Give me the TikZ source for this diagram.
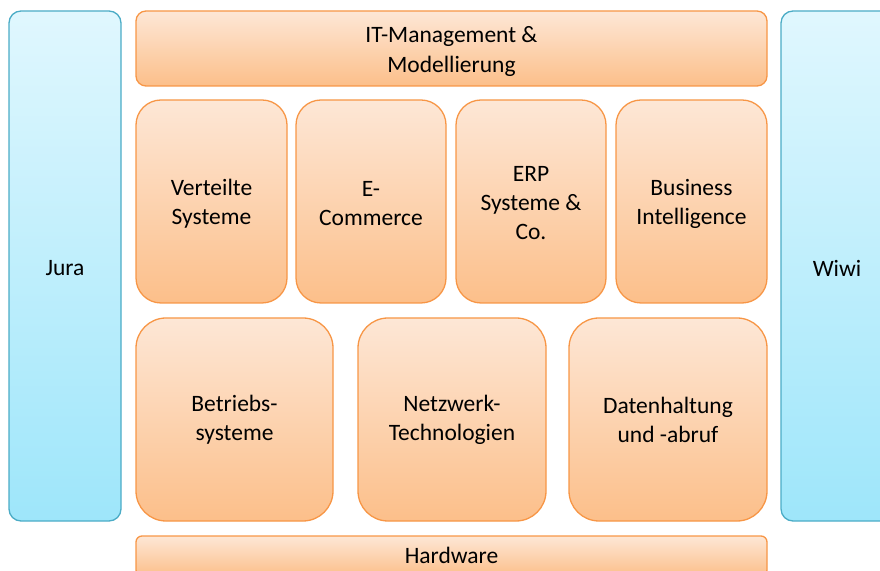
\documentclass[tikz,border=0pt]{standalone}
\usepackage{fontspec}
\setmainfont{Carlito}
\definecolor{oTop}{HTML}{FDE7D6}
\definecolor{oBot}{HTML}{FCBF8A}
\definecolor{oLine}{HTML}{F79646}
\definecolor{bTop}{HTML}{E0F7FE}
\definecolor{bBot}{HTML}{9EE6FA}
\definecolor{bLine}{HTML}{4BACC6}
\begin{document}
\begin{tikzpicture}[x=1pt,y=1pt,
  every node/.style={inner sep=0pt},
  txt/.style={font=\fontsize{23.5}{29}\selectfont, align=center, text=black},
  obox/.style={draw=oLine, line width=1.3pt, top color=oTop, bottom color=oBot, rectangle},
  bbox/.style={draw=bLine, line width=1.3pt, top color=bTop, bottom color=bBot, rectangle}]
\useasboundingbox (0,0) rectangle (880,570);
\clip (0,0) rectangle (880,570);
\node[bbox, rounded corners=12pt, minimum width=112pt, minimum height=510pt] (jura) at (65,304) {};
\node[bbox, rounded corners=12pt, minimum width=112pt, minimum height=510pt] (wiwi) at (837,304) {};
\node[obox, rounded corners=10pt, minimum width=631pt, minimum height=75pt] (itm) at (451.5,521.5) {};
\node[obox, rounded corners=25pt, minimum width=151pt, minimum height=203pt] (vs) at (211.5,368.5) {};
\node[obox, rounded corners=25pt, minimum width=150pt, minimum height=203pt] (ec) at (371,368.5) {};
\node[obox, rounded corners=25pt, minimum width=150pt, minimum height=203pt] (erp) at (531,368.5) {};
\node[obox, rounded corners=25pt, minimum width=151pt, minimum height=203pt] (bi) at (691.5,368.5) {};
\node[obox, rounded corners=30pt, minimum width=197pt, minimum height=203pt] (bs) at (234.5,150.5) {};
\node[obox, rounded corners=30pt, minimum width=188pt, minimum height=203pt] (nt) at (452,150.5) {};
\node[obox, rounded corners=30pt, minimum width=198pt, minimum height=203pt] (dh) at (668,150.5) {};
\node[obox, rounded corners=6pt, minimum width=631pt, minimum height=40pt] (hw) at (451.5,14) {};
\node[txt] (tjura) at ([yshift=-2pt]jura.center) {Jura};
\node[txt] (twiwi) at ([yshift=-2pt]wiwi.center) {Wiwi};
\node[txt, font=\fontsize{23.5}{30}\selectfont] (titm) at ([yshift=-2.5pt]itm.center) {IT-Management \&\\Modellierung};
\node[txt] (tvs) at ([yshift=-2pt]vs.center) {Verteilte\\Systeme};
\node[txt] (tec) at ([yshift=-2pt]ec.center) {E-\\Commerce};
\node[txt] (terp) at ([yshift=-2pt]erp.center) {ERP\\Systeme \&\\Co.};
\node[txt] (tbi) at ([yshift=-2pt]bi.center) {Business\\Intelligence};
\node[txt] (tbs) at ([yshift=-0.5pt]bs.center) {Betriebs-\\systeme};
\node[txt] (tnt) at ([yshift=-0.5pt]nt.center) {Netzwerk-\\Technologien};
\node[txt] (tdh) at ([yshift=-0.5pt]dh.center) {Datenhaltung\\und -abruf};
\node[txt] (thw) at ([yshift=0.5pt]hw.center) {Hardware};
\end{tikzpicture}
\end{document}
